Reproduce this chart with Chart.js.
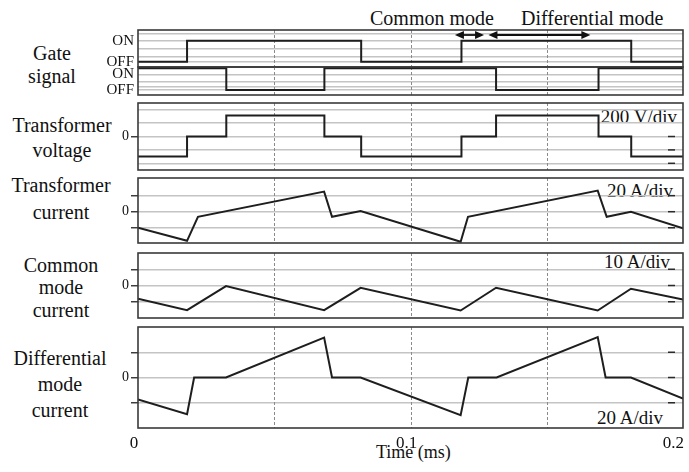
<!DOCTYPE html>
<html lang="en">
<head>
<meta charset="UTF-8">
<title>Gate signal, transformer voltage and currents</title>
<script src="https://cdn.jsdelivr.net/npm/chart.js"></script>
<style>
    html, body {
        margin: 0;
        padding: 0;
        background: #fff;
    }
    body {
        width: 689px;
        height: 472px;
        position: relative;
        overflow: hidden;
        font-family: "Liberation Serif", "Times New Roman", serif;
        color: #111;
    }
    .panel {
        position: absolute;
        left: 0;
        width: 689px;
    }
    .lbl {
        position: absolute;
        width: 124px;
        font-size: 20px;
        text-align: center;
        white-space: nowrap;
    }
    .txt {
        position: absolute;
        line-height: 1;
        white-space: nowrap;
    }
</style>
</head>
<body>

<!-- left titles -->
<div class="lbl" style="left:-10px; top:41.5px; line-height:23.3px;">Gate<br>signal</div>
<div class="lbl" style="left:0px; top:112.5px; line-height:25px;">Transformer<br>voltage</div>
<div class="lbl" style="left:-1px; top:172px; line-height:26.5px;">Transformer<br>current</div>
<div class="lbl" style="left:-1px; top:253.7px; line-height:22.5px;">Common<br>mode<br>current</div>
<div class="lbl" style="left:-2px; top:345px; line-height:26px;">Differential<br>mode<br>current</div>

<!-- mode captions and units -->
<div class="txt" style="font-size:20px; left:370px; top:8px;">Common mode</div>
<div class="txt" style="font-size:20px; left:521px; top:8px;">Differential mode</div>
<div class="txt" style="font-size:19px; right:12px; top:107px;">200 V/div</div>
<div class="txt" style="font-size:19px; right:16px; top:181px;">20 A/div</div>
<div class="txt" style="font-size:19px; right:19px; top:252px;">10 A/div</div>
<div class="txt" style="font-size:19px; right:26px; top:408px;">20 A/div</div>
<div class="txt" style="font-size:18px; left:376px; top:443px;">Time (ms)</div>

<div class="panel" style="top:16px; height:65px;"><canvas id="s1Chart"></canvas></div>
<div class="panel" style="top:53px; height:56px;"><canvas id="s2Chart"></canvas></div>
<div class="panel" style="top:89px; height:95px;"><canvas id="voltChart"></canvas></div>
<div class="panel" style="top:164px; height:93px;"><canvas id="curChart"></canvas></div>
<div class="panel" style="top:239px; height:93px;"><canvas id="cmChart"></canvas></div>
<div class="panel" style="top:313px; height:159px;"><canvas id="dmChart"></canvas></div>

<script>
    // time axis (ms)
    const timeLabels = [0, 0.1, 0.2];
    const timeGrid = [0.05, 0.1, 0.15];

    // gate signals (1 = ON, 0 = OFF), each value holds until the next time
    const s1Time = [0, 0.018, 0.0819, 0.1187, 0.181, 0.2];
    const s1State = [0, 1, 0, 1, 0, 0];
    const s2Time = [0, 0.0324, 0.0684, 0.1314, 0.169, 0.2];
    const s2State = [1, 0, 1, 0, 1, 1];

    // transformer voltage (V)
    const voltTime = [0, 0.018, 0.0324, 0.0684, 0.0819, 0.1187, 0.1314, 0.169, 0.181, 0.2];
    const voltValue = [-300, 0, 315, 0, -300, 0, 315, 0, -300, -300];

    // transformer current (A)
    const curTime = [0, 0.018, 0.022, 0.0683, 0.0712, 0.0817, 0.1184, 0.1211, 0.1687, 0.172, 0.1809, 0.2];
    const curValue = [-20, -36.3, -6.3, 25, -6.3, 0.9, -37.5, -6.3, 26.3, -6.3, 0, -20.8];

    // common mode current (A)
    const cmTime = [0, 0.018, 0.0323, 0.0683, 0.0817, 0.1184, 0.1314, 0.1687, 0.1809, 0.2];
    const cmValue = [-8.2, -15.2, -0.4, -15.2, -1.4, -15.4, -1.4, -15.4, -2, -8.6];

    // differential mode current (A)
    const dmTime = [0, 0.018, 0.0206, 0.0323, 0.0683, 0.0712, 0.0817, 0.1184, 0.1212, 0.1316, 0.1687, 0.1716, 0.1809, 0.2];
    const dmValue = [-17.4, -29, 0, 0, 31.6, 0, 0, -29.8, 0, 0, 32, 0, 0, -16.6];

    // mode intervals marked with arrows (ms)
    const commonModeSpan = [0.1163, 0.127];
    const diffModeSpan = [0.1286, 0.166];

    const family = '"Liberation Serif", "Times New Roman", serif';

    function series(times, values) {
        return times.map((t, i) => ({ x: t, y: values[i] }));
    }

    function arrowHead(ctx, x, y, dir) {
        ctx.beginPath();
        ctx.moveTo(x, y);
        ctx.lineTo(x - dir * 9, y - 4);
        ctx.lineTo(x - dir * 9, y + 4);
        ctx.closePath();
        ctx.fill();
    }

    // scope frame: vertical time grid, right tick marks, border, arrows, time labels
    const scopePlugin = {
        id: 'scope',
        beforeDatasetsDraw(chart, args, opts) {
            const { ctx, chartArea: a, scales: { x, y } } = chart;
            ctx.save();
            ctx.strokeStyle = '#8a8a8a';
            ctx.lineWidth = 1;
            ctx.setLineDash([3, 2]);
            timeGrid.forEach(t => {
                const px = Math.round(x.getPixelForValue(t)) + 0.5;
                ctx.beginPath();
                ctx.moveTo(px, a.top);
                ctx.lineTo(px, a.bottom);
                ctx.stroke();
            });
            ctx.setLineDash([]);
            ctx.strokeStyle = '#2a2a2a';
            ctx.lineWidth = 1.5;
            (opts.marks || []).forEach(v => {
                const py = y.getPixelForValue(v);
                ctx.beginPath();
                ctx.moveTo(a.right - 15, py);
                ctx.lineTo(a.right - 8, py);
                ctx.stroke();
            });
            ctx.restore();
        },
        afterDatasetsDraw(chart, args, opts) {
            const { ctx, chartArea: a, scales: { x } } = chart;
            ctx.save();
            ctx.strokeStyle = '#3a3a3a';
            ctx.lineWidth = 1.6;
            ctx.strokeRect(a.left, a.top, a.right - a.left, a.bottom - a.top);

            if (opts.arrows) {
                const ay = a.top + 5;
                ctx.strokeStyle = '#111';
                ctx.fillStyle = '#111';
                ctx.lineWidth = 1.8;
                opts.arrows.forEach(span => {
                    const x0 = x.getPixelForValue(span[0]);
                    const x1 = x.getPixelForValue(span[1]);
                    ctx.beginPath();
                    ctx.moveTo(x0 + 4, ay);
                    ctx.lineTo(x1 - 4, ay);
                    ctx.stroke();
                    arrowHead(ctx, x0, ay, -1);
                    arrowHead(ctx, x1, ay, 1);
                });
            }

            if (opts.timeLabels) {
                ctx.fillStyle = '#111';
                ctx.font = '17px ' + family;
                ctx.textBaseline = 'alphabetic';
                opts.timeLabels.forEach(t => {
                    const label = t === 0 ? '0' : String(t);
                    const w = ctx.measureText(label).width;
                    let px = x.getPixelForValue(t) - 4;
                    if (px + w / 2 > a.right + 1) px = a.right + 1 - w / 2;
                    ctx.textAlign = 'center';
                    ctx.fillText(label, px, a.bottom + 20);
                });
            }
            ctx.restore();
        }
    };

    function build(canvasId, cfg) {
        new Chart(document.getElementById(canvasId), {
            type: 'line',
            data: {
                datasets: [{
                    data: series(cfg.t, cfg.v),
                    stepped: cfg.stepped || false,
                    borderColor: '#1e1e1e',
                    borderWidth: 2,
                    pointRadius: 0,
                    tension: 0,
                    fill: false
                }]
            },
            options: {
                responsive: true,
                maintainAspectRatio: false,
                animation: false,
                events: [],
                layout: { padding: { left: 0, right: 6, top: 14, bottom: cfg.padBottom || 14 } },
                plugins: {
                    legend: { display: false },
                    tooltip: { enabled: false },
                    scope: { marks: cfg.marks || [], arrows: cfg.arrows, timeLabels: cfg.timeLabels }
                },
                scales: {
                    x: { type: 'linear', min: 0, max: 0.2, display: false },
                    y: {
                        min: cfg.min,
                        max: cfg.max,
                        afterFit(s) { s.width = 138; },
                        afterBuildTicks(s) { s.ticks = cfg.grid.map(v => ({ value: v })); },
                        border: { display: false },
                        grid: {
                            color: '#c4c4c4',
                            lineWidth: 1.5,
                            drawTicks: !cfg.gate,
                            tickLength: 7,
                            tickWidth: 1.4,
                            tickColor: c => (cfg.leftMarks || []).includes(c.tick.value) ? '#333' : 'rgba(0,0,0,0)'
                        },
                        ticks: {
                            autoSkip: false,
                            color: '#111',
                            font: { family: family, size: cfg.gate ? 15 : 14 },
                            padding: cfg.gate ? 4 : 2,
                            callback: v => cfg.names[v] ?? ''
                        }
                    }
                }
            },
            plugins: [scopePlugin]
        });
    }

    build('s1Chart', {
        t: s1Time, v: s1State, stepped: true, gate: true,
        min: -0.25, max: 1.51, grid: [0, 0.24, 0.64, 1, 1.35],
        names: { 0: 'OFF', 1: 'ON' },
        arrows: [commonModeSpan, diffModeSpan]
    });

    build('s2Chart', {
        t: s2Time, v: s2State, stepped: true, gate: true,
        min: -0.23, max: 1.06, grid: [0, 0.15, 0.38, 0.72],
        names: { 0: 'OFF', 0.72: 'ON' }
    });

    build('voltChart', {
        t: voltTime, v: voltValue, stepped: true,
        min: -500, max: 500, grid: [-400, -200, 0, 200, 400],
        names: { 0: '0' }, leftMarks: [0], marks: [0, -200, -400]
    });

    build('curChart', {
        t: curTime, v: curValue,
        min: -39, max: 42, grid: [-20, 0, 20],
        names: { 0: '0' }, leftMarks: [-20, 0, 20], marks: [20, 0, -20]
    });

    build('cmChart', {
        t: cmTime, v: cmValue,
        min: -20, max: 20, grid: [-10, 0, 10],
        names: { 0: '0' }, leftMarks: [-10, 0, 10], marks: [10, 0, -10]
    });

    build('dmChart', {
        t: dmTime, v: dmValue,
        min: -40, max: 40, grid: [-20, 0, 20],
        names: { 0: '0' }, leftMarks: [-20, 0, 20], marks: [20, 0, -20],
        padBottom: 44, timeLabels: timeLabels
    });
</script>
</body>
</html>
